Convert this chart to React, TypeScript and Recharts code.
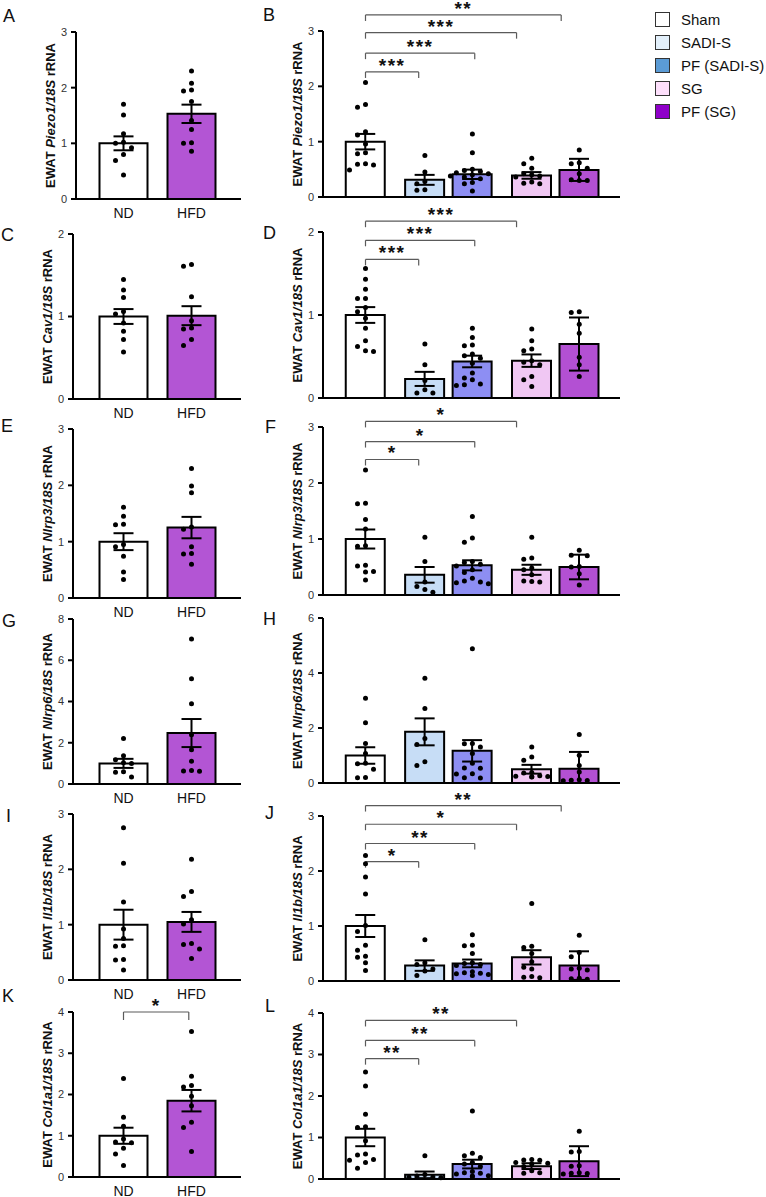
import React from 'react';
import { ComposedChart, Bar, Cell, Scatter, XAxis, YAxis, ErrorBar, ReferenceLine } from 'recharts';

// ---------- categories & colours ----------
const dietGroups = ['ND', 'HFD'];
const surgeryGroups = ['Sham', 'SADI-S', 'PF (SADI-S)', 'SG', 'PF (SG)'];
const dietPos = [1, 2];
const surgeryPos = [1, 2.25, 3.25, 4.5, 5.5];
const dietFill = ['#ffffff', '#b355d4'];
const surgeryFill = ['#ffffff', '#c7ddf6', '#8d8ef3', '#f0c7f3', '#b350d3'];
const legendFill = ['#ffffff', '#e3f0fb', '#5b9bd5', '#fddffb', '#8f00c9'];
// right ends of significance brackets (left end is always the first group)
const surgeryBracketEnd = [1, 2.12, 3.3, 4.18, 5.12];
const dietBracketEnd = [1, 1.96];

// ---------- A: Piezo1 (diet) ----------
const aMean = [1.0, 1.53];
const aSem = [0.125, 0.165];
const aPoints = [
  [1.7, 1.51, 1.17, 1.02, 1.0, 0.92, 0.8, 0.69, 0.43],
  [2.3, 2.08, 1.96, 1.94, 1.75, 1.41, 1.25, 1.01, 1.0, 0.86],
];
// ---------- B: Piezo1 (surgery) ----------
const bMean = [1.0, 0.31, 0.41, 0.39, 0.49];
const bSem = [0.14, 0.09, 0.085, 0.06, 0.2];
const bPoints = [
  [2.07, 1.67, 1.62, 1.18, 1.12, 0.96, 0.8, 0.78, 0.6, 0.59, 0.58, 0.49],
  [0.75, 0.45, 0.28, 0.24, 0.13, 0.12],
  [1.14, 0.8, 0.5, 0.48, 0.46, 0.44, 0.42, 0.4, 0.38, 0.36, 0.33, 0.26, 0.24, 0.11],
  [0.7, 0.6, 0.52, 0.42, 0.4, 0.38, 0.36, 0.27, 0.25, 0.24],
  [0.85, 0.62, 0.6, 0.52, 0.42, 0.31, 0.3, 0.3],
];
const bBrackets = [
  { to: 1, y: 2.26, label: '***' },
  { to: 2, y: 2.6, label: '***' },
  { to: 3, y: 2.97, label: '***' },
  { to: 4, y: 3.29, label: '**' },
];
// ---------- C: Cav1 (diet) ----------
const cMean = [1.0, 1.01];
const cSem = [0.09, 0.115];
const cPoints = [
  [1.45, 1.32, 1.23, 1.06, 1.03, 0.92, 0.82, 0.72, 0.57],
  [1.63, 1.61, 1.24, 0.95, 0.86, 0.85, 0.72, 0.65],
];
// ---------- D: Cav1 (surgery) ----------
const dMean = [1.0, 0.23, 0.44, 0.45, 0.65];
const dSem = [0.095, 0.085, 0.07, 0.075, 0.32];
const dPoints = [
  [1.56, 1.43, 1.31, 1.2, 1.2, 1.09, 1.04, 0.96, 0.84, 0.69, 0.62, 0.57, 0.56],
  [0.65, 0.4, 0.21, 0.1, 0.06, 0.06],
  [0.84, 0.73, 0.64, 0.63, 0.53, 0.51, 0.48, 0.42, 0.3, 0.24, 0.22, 0.17, 0.16, 0.15],
  [0.83, 0.69, 0.59, 0.57, 0.45, 0.43, 0.4, 0.26, 0.22, 0.14],
  [1.04, 1.03, 0.89, 0.78, 0.49, 0.4, 0.26],
];
const dBrackets = [
  { to: 1, y: 1.67, label: '***' },
  { to: 2, y: 1.9, label: '***' },
  { to: 3, y: 2.13, label: '***' },
];
// ---------- E: Nlrp3 (diet) ----------
const eMean = [1.0, 1.25];
const eSem = [0.15, 0.19];
const ePoints = [
  [1.61, 1.45, 1.31, 1.3, 0.95, 0.91, 0.74, 0.46, 0.33],
  [2.3, 1.99, 1.87, 1.26, 1.22, 0.91, 0.79, 0.78, 0.6],
];
// ---------- F: Nlrp3 (surgery) ----------
const fMean = [1.0, 0.36, 0.53, 0.45, 0.5];
const fSem = [0.17, 0.14, 0.09, 0.09, 0.22];
const fPoints = [
  [2.23, 1.64, 1.63, 1.35, 1.18, 0.88, 0.87, 0.53, 0.52, 0.42, 0.41, 0.27],
  [1.03, 0.6, 0.23, 0.15, 0.1, 0.05],
  [1.4, 1.02, 0.94, 0.6, 0.58, 0.55, 0.52, 0.45, 0.4, 0.3, 0.25, 0.23, 0.22, 0.2],
  [1.03, 0.66, 0.64, 0.48, 0.45, 0.36, 0.25, 0.24, 0.23],
  [0.8, 0.71, 0.7, 0.51, 0.5, 0.38, 0.18],
];
const fBrackets = [
  { to: 1, y: 2.42, label: '*' },
  { to: 2, y: 2.74, label: '*' },
  { to: 3, y: 3.1, label: '*' },
];
// ---------- G: Nlrp6 (diet) ----------
const gMean = [1.0, 2.47];
const gSem = [0.22, 0.68];
const gPoints = [
  [2.21, 1.37, 1.18, 1.03, 1.0, 0.6, 0.57, 0.34],
  [7.03, 5.1, 3.89, 2.39, 1.66, 1.1, 0.65, 0.63, 0.62],
];
// ---------- H: Nlrp6 (surgery) ----------
const hMean = [1.0, 1.86, 1.17, 0.5, 0.52];
const hSem = [0.3, 0.49, 0.39, 0.16, 0.61];
const hPoints = [
  [3.08, 2.19, 1.44, 1.07, 0.72, 0.7, 0.5, 0.2, 0.19],
  [3.81, 2.71, 1.62, 1.4, 0.77, 0.64],
  [4.88, 1.44, 1.43, 1.31, 1.07, 0.72, 0.55, 0.54, 0.34, 0.33, 0.19, 0.18],
  [1.31, 0.95, 0.83, 0.38, 0.36, 0.26, 0.25, 0.24, 0.23, 0.22],
  [1.76, 1.01, 0.64, 0.4, 0.12, 0.1, 0.09, 0.08],
];
// ---------- I: Il1b (diet) ----------
const iMean = [1.0, 1.05];
const iSem = [0.27, 0.18];
const iPoints = [
  [2.75, 2.11, 1.41, 0.92, 0.75, 0.62, 0.61, 0.37, 0.36, 0.18],
  [2.18, 1.6, 1.51, 1.09, 1.01, 0.66, 0.64, 0.56, 0.39],
];
// ---------- J: Il1b (surgery) ----------
const jMean = [1.0, 0.28, 0.32, 0.43, 0.28];
const jSem = [0.2, 0.095, 0.07, 0.13, 0.26];
const jPoints = [
  [2.28, 2.13, 1.89, 1.58, 1.01, 0.9, 0.65, 0.56, 0.45, 0.43, 0.33, 0.19],
  [0.75, 0.33, 0.3, 0.22, 0.18, 0.1],
  [0.84, 0.65, 0.64, 0.5, 0.33, 0.32, 0.3, 0.28, 0.17, 0.15, 0.14, 0.13, 0.12, 0.1],
  [1.41, 0.63, 0.61, 0.5, 0.35, 0.25, 0.22, 0.08, 0.07, 0.06],
  [0.83, 0.52, 0.44, 0.23, 0.22, 0.2, 0.05, 0.04, 0.03],
];
const jBrackets = [
  { to: 1, y: 2.17, label: '*' },
  { to: 2, y: 2.5, label: '**' },
  { to: 3, y: 2.85, label: '*' },
  { to: 4, y: 3.19, label: '**' },
];
// ---------- K: Col1a1 (diet) ----------
const kMean = [1.0, 1.85];
const kSem = [0.195, 0.26];
const kPoints = [
  [2.39, 1.45, 1.23, 0.92, 0.85, 0.83, 0.7, 0.56, 0.28],
  [3.53, 2.44, 2.22, 2.18, 1.96, 1.73, 1.33, 1.2, 0.62],
];
const kBrackets = [{ to: 1, y: 4.0, label: '*' }];
// ---------- L: Col1a1 (surgery) ----------
const lMean = [1.0, 0.1, 0.36, 0.31, 0.43];
const lSem = [0.21, 0.08, 0.105, 0.07, 0.36];
const lPoints = [
  [2.58, 2.24, 1.56, 1.26, 1.24, 0.92, 0.6, 0.58, 0.47, 0.45, 0.4, 0.26],
  [0.56, 0.11, 0.07, 0.05, 0.04, 0.03],
  [1.64, 0.62, 0.56, 0.52, 0.4, 0.36, 0.3, 0.18, 0.15, 0.14, 0.12, 0.08, 0.07, 0.06],
  [0.47, 0.46, 0.45, 0.4, 0.38, 0.36, 0.3, 0.2, 0.15, 0.14],
  [1.15, 0.66, 0.65, 0.32, 0.31, 0.15, 0.14, 0.13, 0.12],
];
const lBrackets = [
  { to: 1, y: 2.9, label: '**' },
  { to: 2, y: 3.34, label: '**' },
  { to: 3, y: 3.82, label: '**' },
];

const ticks3 = [0, 1, 2, 3];
const ticks2 = [0, 1, 2];
const ticks4 = [0, 1, 2, 3, 4];
const ticks8 = [0, 2, 4, 6, 8];
const ticks6 = [0, 2, 4, 6];

type Bracket = { to: number; y: number; label: string };
type Cfg = {
  letter: string; lx: number; lb: number; gene: string; side: 'diet' | 'surgery';
  left: number; top: number; bottom: number; yMax: number; yTicks: number[];
  mean: number[]; sem: number[]; points: number[][]; brackets?: Bracket[];
};

const panels: Cfg[] = [
  { letter: 'A', lx: 3, lb: 22, gene: 'Piezo1', side: 'diet', left: 76, top: 32, bottom: 199, yMax: 3, yTicks: ticks3, mean: aMean, sem: aSem, points: aPoints },
  { letter: 'B', lx: 263, lb: 21, gene: 'Piezo1', side: 'surgery', left: 323, top: 31, bottom: 197, yMax: 3, yTicks: ticks3, mean: bMean, sem: bSem, points: bPoints, brackets: bBrackets },
  { letter: 'C', lx: 1, lb: 241, gene: 'Cav1', side: 'diet', left: 73, top: 234, bottom: 399, yMax: 2, yTicks: ticks2, mean: cMean, sem: cSem, points: cPoints },
  { letter: 'D', lx: 263, lb: 239, gene: 'Cav1', side: 'surgery', left: 323, top: 232, bottom: 398, yMax: 2, yTicks: ticks2, mean: dMean, sem: dSem, points: dPoints, brackets: dBrackets },
  { letter: 'E', lx: 1, lb: 432, gene: 'Nlrp3', side: 'diet', left: 73, top: 429, bottom: 598, yMax: 3, yTicks: ticks3, mean: eMean, sem: eSem, points: ePoints },
  { letter: 'F', lx: 265, lb: 433, gene: 'Nlrp3', side: 'surgery', left: 323, top: 427, bottom: 595, yMax: 3, yTicks: ticks3, mean: fMean, sem: fSem, points: fPoints, brackets: fBrackets },
  { letter: 'G', lx: 2, lb: 627, gene: 'Nlrp6', side: 'diet', left: 73, top: 619, bottom: 784, yMax: 8, yTicks: ticks8, mean: gMean, sem: gSem, points: gPoints },
  { letter: 'H', lx: 263, lb: 625, gene: 'Nlrp6', side: 'surgery', left: 323, top: 618, bottom: 783, yMax: 6, yTicks: ticks6, mean: hMean, sem: hSem, points: hPoints },
  { letter: 'I', lx: 6, lb: 822, gene: 'Il1b', side: 'diet', left: 73, top: 814, bottom: 980, yMax: 3, yTicks: ticks3, mean: iMean, sem: iSem, points: iPoints },
  { letter: 'J', lx: 265, lb: 819, gene: 'Il1b', side: 'surgery', left: 323, top: 816, bottom: 981, yMax: 3, yTicks: ticks3, mean: jMean, sem: jSem, points: jPoints, brackets: jBrackets },
  { letter: 'K', lx: 2, lb: 1002, gene: 'Col1a1', side: 'diet', left: 73, top: 1012, bottom: 1177, yMax: 4, yTicks: ticks4, mean: kMean, sem: kSem, points: kPoints, brackets: kBrackets },
  { letter: 'L', lx: 265, lb: 1012, gene: 'Col1a1', side: 'surgery', left: 323, top: 1013, bottom: 1179, yMax: 4, yTicks: ticks4, mean: lMean, sem: lSem, points: lPoints, brackets: lBrackets },
];

// beeswarm layout of the individual values (horizontal spread only)
function swarm(values: number[], center: number, pxPerY: number, pxPerX: number) {
  const placed: { y: number; dx: number }[] = [];
  const out: { x: number; y: number }[] = [];
  const offsets = [0, -8, 8, -16, 16, -22, 22];
  [...values].sort((a, b) => b - a).forEach((v) => {
    const yp = v * pxPerY;
    let dx = 0;
    for (const o of offsets) {
      if (placed.every((p) => Math.hypot(p.dx - o, p.y - yp) >= 6.5)) { dx = o; break; }
    }
    placed.push({ y: yp, dx });
    out.push({ x: center + dx / pxPerX, y: v });
  });
  return out;
}

const Dot = (p: any) => <circle cx={p.cx} cy={p.cy} r={2.5} fill="#000" />;

const YLabel = (props: any) => {
  const vb = props.viewBox || {};
  const bx = vb.x + vb.width - 21;
  const cy = vb.y + vb.height / 2;
  return (
    <text x={bx} y={cy} transform={`rotate(-90 ${bx} ${cy})`} textAnchor="middle" fontSize={13} fontWeight="bold" fill="#111">
      {'EWAT '}<tspan fontStyle="italic">{props.gene + '/18S'}</tspan>{' rRNA'}
    </text>
  );
};

function Panel({ cfg }: { cfg: Cfg }) {
  const isDiet = cfg.side === 'diet';
  const pos = isDiet ? dietPos : surgeryPos;
  const names = isDiet ? dietGroups : surgeryGroups;
  const fills = isDiet ? dietFill : surgeryFill;
  const ends = isDiet ? dietBracketEnd : surgeryBracketEnd;
  const unitPx = isDiet ? 68 : 47.5;
  const firstCenter = isDiet ? 123.5 : 365.5;
  const plotRight = isDiet ? 241 : 620;
  const xMin = pos[0] - (firstCenter - cfg.left) / unitPx;
  const xMax = pos[0] + (plotRight - firstCenter) / unitPx;
  const plotW = plotRight - cfg.left;
  const plotH = cfg.bottom - cfg.top;
  const pxPerY = plotH / cfg.yMax;
  const ML = 70, MT = 45, MR = 12;
  const XH = isDiet ? 34 : 8;
  const W = ML + plotW + MR;
  const H = MT + plotH + XH;
  const barData = pos.map((x, i) => ({
    x,
    mean: cfg.mean[i],
    err: [Math.min(cfg.sem[i], cfg.mean[i]), cfg.sem[i]],
  }));
  const dots = cfg.points.flatMap((vals, i) => swarm(vals, pos[i], pxPerY, unitPx));
  const tickLen = (isDiet ? 8 : 6) / pxPerY;
  const br = cfg.brackets || [];
  const lineStyle = { stroke: '#5a5a5a', strokeWidth: 1.2 };
  return (
    <div style={{ position: 'absolute', left: cfg.left - ML, top: cfg.top - MT }}>
      <ComposedChart width={W} height={H} data={barData} margin={{ top: MT, right: MR, bottom: 0, left: 0 }}>
        <XAxis
          xAxisId="bars" type="number" dataKey="x" domain={[xMin, xMax]} ticks={pos} interval={0}
          tickLine={false} axisLine={{ stroke: '#000', strokeWidth: 2 }} height={XH}
          tick={isDiet ? { fontSize: 14, fill: '#111' } : false}
          tickFormatter={(v: number) => names[pos.indexOf(v)] ?? ''}
          tickSize={6} tickMargin={3}
        />
        <XAxis xAxisId="dots" type="number" dataKey="x" domain={[xMin, xMax]} hide />
        <YAxis
          type="number" domain={[0, cfg.yMax]} ticks={cfg.yTicks} interval={0} width={ML}
          axisLine={{ stroke: '#000', strokeWidth: 2 }} tickLine={{ stroke: '#000', strokeWidth: 2 }}
          tickSize={5} tickMargin={4} tick={{ fontSize: 11, fill: '#333' }}
          label={<YLabel gene={cfg.gene} />}
        />
        <Bar xAxisId="bars" dataKey="mean" barSize={isDiet ? 48 : 39} stroke="#000" strokeWidth={2} isAnimationActive={false}>
          {barData.map((d, i) => <Cell key={i} fill={fills[i]} />)}
          <ErrorBar dataKey="err" width={10} stroke="#000" strokeWidth={2} direction="y" />
        </Bar>
        <Scatter xAxisId="dots" data={dots} dataKey="y" shape={Dot} isAnimationActive={false} />
        {br.map((b, k) => (
          <ReferenceLine key={`h${k}`} xAxisId="bars" segment={[{ x: pos[0], y: b.y }, { x: ends[b.to], y: b.y }]} ifOverflow="visible"
            {...lineStyle}
            label={{ value: b.label, position: 'top', offset: 0, fill: '#111', fontSize: 19, fontWeight: 'bold', letterSpacing: 1.5 }} />
        ))}
        {br.map((b, k) => (
          <ReferenceLine key={`l${k}`} xAxisId="bars" segment={[{ x: pos[0], y: b.y }, { x: pos[0], y: b.y - tickLen }]} ifOverflow="visible"
            {...lineStyle} />
        ))}
        {br.map((b, k) => (
          <ReferenceLine key={`r${k}`} xAxisId="bars" segment={[{ x: ends[b.to], y: b.y }, { x: ends[b.to], y: b.y - tickLen }]} ifOverflow="visible"
            {...lineStyle} />
        ))}
      </ComposedChart>
    </div>
  );
}

export default function App() {
  return (
    <div style={{ position: 'absolute', left: 0, top: 0, width: 766, height: 1197, overflow: 'hidden', background: '#fff', fontFamily: '"Liberation Sans", Arial, sans-serif' }}>
      {panels.map((p) => (
        <div key={'t' + p.letter} style={{ position: 'absolute', left: p.lx, top: p.lb - 15.2, fontSize: 18, lineHeight: '18px', color: '#111' }}>{p.letter}</div>
      ))}
      {panels.map((p) => <Panel key={p.letter} cfg={p} />)}
      <div style={{ position: 'absolute', left: 655, top: 11 }}>
        {surgeryGroups.map((g, i) => (
          <div key={g} style={{ position: 'absolute', left: 0, top: i * 23.1, height: 16, display: 'flex', alignItems: 'center' }}>
            <div style={{ width: 13, height: 13, border: '1.5px solid #333', background: legendFill[i] }} />
            <span style={{ marginLeft: 11, fontSize: 15, color: '#111', whiteSpace: 'nowrap' }}>{g}</span>
          </div>
        ))}
      </div>
    </div>
  );
}
